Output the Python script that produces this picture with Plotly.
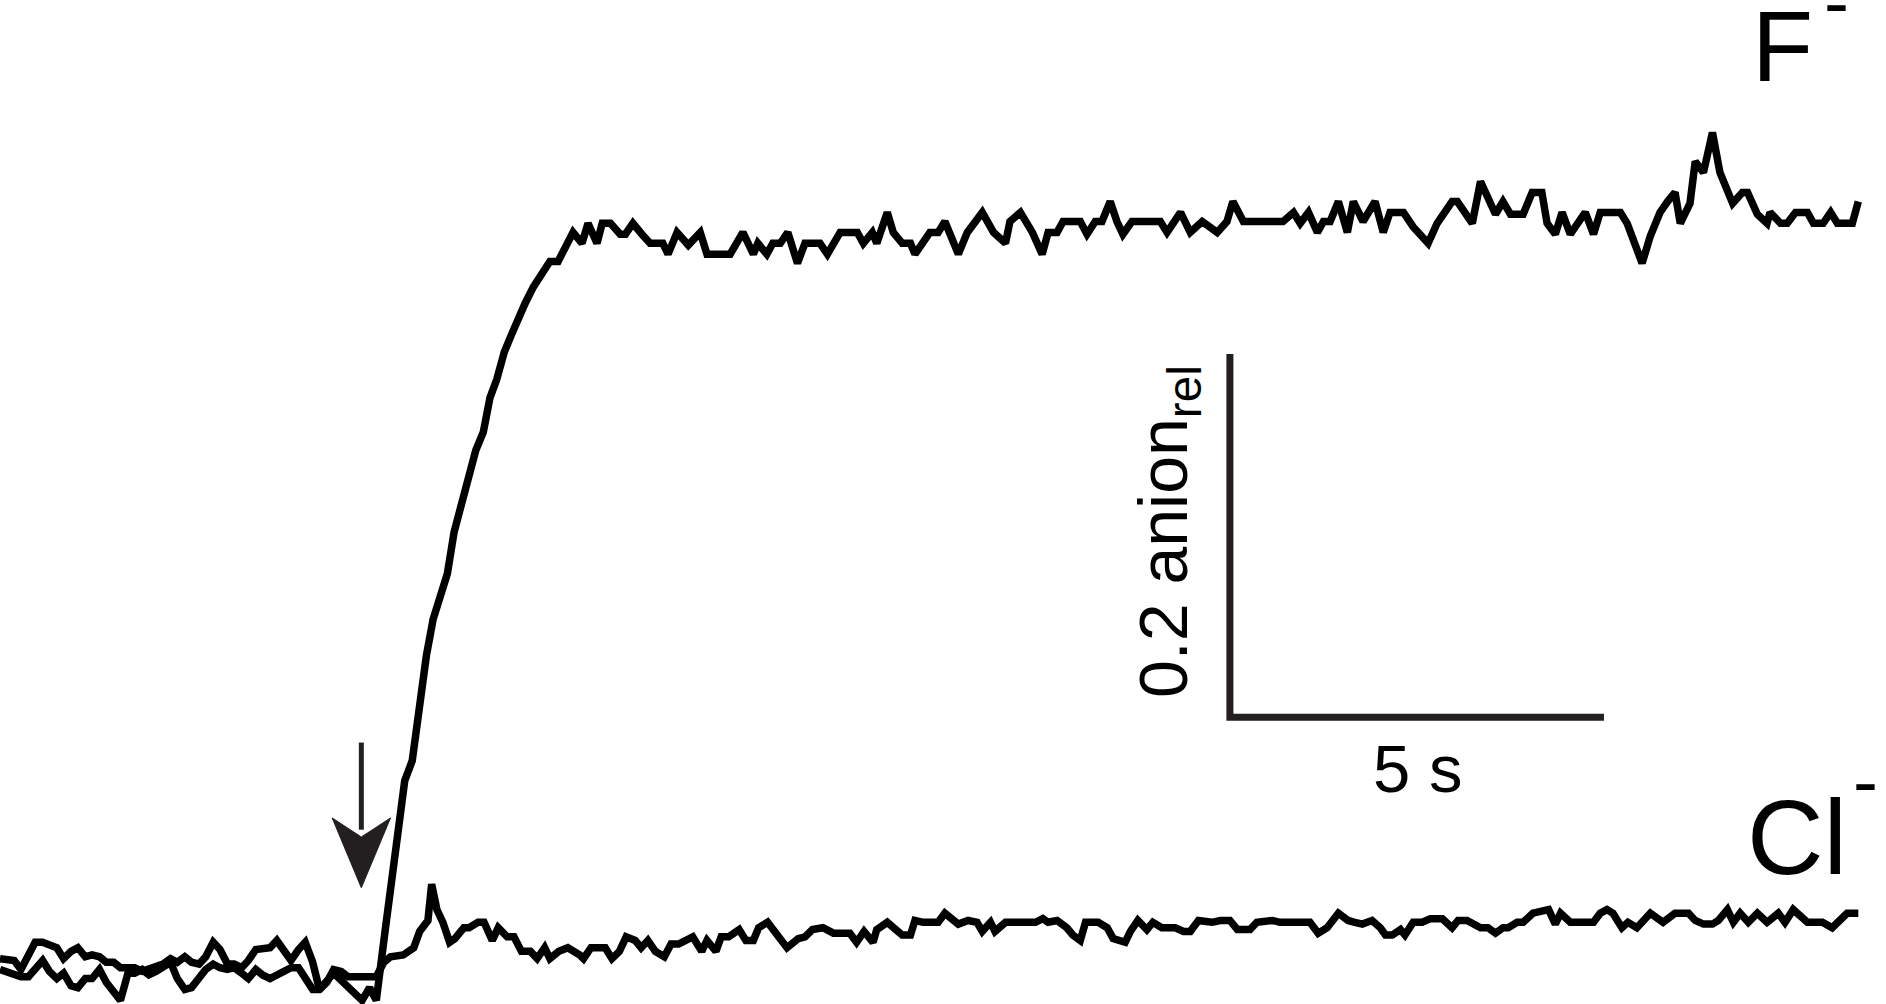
import plotly.graph_objects as go

# F- trace: time (s) and relative anion signal
f_time = [
    0.00, 0.09, 0.19, 0.28, 0.38, 0.47, 0.57, 0.66, 0.76, 0.85,
    0.95, 1.04, 1.14, 1.23, 1.33, 1.42, 1.52, 1.61, 1.71, 1.80,
    1.90, 1.99, 2.09, 2.18, 2.28, 2.37, 2.47, 2.56, 2.66, 2.75,
    2.85, 2.94, 3.04, 3.13, 3.23, 3.32, 3.42, 3.51, 3.61, 3.70,
    3.80, 3.89, 3.99, 4.08, 4.18, 4.27, 4.37, 4.46, 4.56, 4.65,
    4.75, 4.84, 4.94, 5.03,
    5.15, 5.27, 5.35, 5.41, 5.51, 5.60, 5.70, 5.79, 5.88, 5.98,
    6.07, 6.16, 6.27, 6.36, 6.46, 6.55, 6.64, 6.74, 6.83, 6.93,
    7.02, 7.13, 7.22, 7.35, 7.46, 7.58, 7.66, 7.78, 7.86, 7.98,
    8.05, 8.16, 8.29, 8.36, 8.46, 8.58, 8.69, 8.86, 8.93, 9.05,
    9.20, 9.36, 9.45, 9.76, 9.93, 10.07, 10.13, 10.25, 10.33, 10.43,
    10.53, 10.66, 10.76, 10.96, 11.06, 11.23, 11.46, 11.54, 11.66, 11.72,
    11.86, 11.94, 12.06, 12.17, 12.23, 12.43, 12.54, 12.63, 12.81, 12.93,
    13.13, 13.28, 13.44, 13.50, 13.64, 13.80, 13.93, 14.01, 14.13, 14.21,
    14.44, 14.53, 14.64, 14.73, 14.84, 14.93, 15.01, 15.13, 15.51, 15.60,
    15.78, 15.91, 16.07, 16.27, 16.40, 16.48, 16.62, 17.15, 17.29, 17.38,
    17.49, 17.61, 17.69, 17.78, 17.89, 18.01, 18.09, 18.22, 18.38, 18.49,
    18.58, 18.76, 18.89, 19.09, 19.21, 19.41, 19.48, 19.68, 19.79, 19.99,
    20.09, 20.19, 20.36, 20.48, 20.61, 20.68, 20.79, 20.88, 20.99, 21.19,
    21.30, 21.39, 21.66, 21.75, 21.86, 21.95, 22.06, 22.19, 22.29, 22.39,
    22.46, 22.59, 22.66, 22.77, 22.89, 22.99, 23.16, 23.29, 23.36, 23.49,
    23.62, 23.66, 23.80, 23.89, 24.00, 24.16, 24.24, 24.37, 24.47, 24.56,
    24.76, 24.84,
]
f_signal = [
    0.003, 0.002, 0.000, -0.001, -0.001, 0.004, 0.008, 0.002, -0.002, 0.001,
    -0.006, -0.007, -0.002, -0.002, 0.003, -0.004, -0.009, -0.014, 0.001, 0.001,
    0.003, 0.000, 0.002, 0.004, 0.007, -0.002, -0.008, -0.007, -0.002, 0.003,
    0.006, 0.004, 0.003, 0.004, 0.001, -0.002, 0.003, 0.000, -0.002, 0.000,
    0.003, 0.004, 0.004, -0.001, -0.008, -0.008, -0.004, 0.001, -0.003, -0.007,
    -0.010, -0.014, -0.007, -0.014,
    0.025, 0.063, 0.088, 0.107, 0.118, 0.149, 0.176, 0.196, 0.208, 0.221,
    0.244, 0.259, 0.278, 0.289, 0.299, 0.318, 0.328, 0.343, 0.352, 0.362,
    0.370, 0.379, 0.385, 0.393, 0.393, 0.403, 0.409, 0.403, 0.414, 0.403,
    0.414, 0.414, 0.408, 0.408, 0.414, 0.408, 0.403, 0.403, 0.397, 0.409,
    0.402, 0.409, 0.397, 0.397, 0.409, 0.397, 0.403, 0.397, 0.403, 0.403,
    0.409, 0.392, 0.403, 0.403, 0.397, 0.409, 0.409, 0.403, 0.409, 0.403,
    0.420, 0.409, 0.403, 0.403, 0.397, 0.409, 0.409, 0.415, 0.397, 0.409,
    0.420, 0.409, 0.403, 0.415, 0.420, 0.409, 0.397, 0.409, 0.409, 0.415,
    0.415, 0.408, 0.415, 0.415, 0.426, 0.415, 0.408, 0.415, 0.415, 0.409,
    0.420, 0.409, 0.415, 0.409, 0.415, 0.426, 0.415, 0.415, 0.420, 0.414,
    0.420, 0.409, 0.415, 0.415, 0.426, 0.409, 0.426, 0.415, 0.426, 0.409,
    0.420, 0.420, 0.412, 0.403, 0.414, 0.426, 0.426, 0.414, 0.437, 0.419,
    0.426, 0.419, 0.419, 0.431, 0.431, 0.414, 0.408, 0.420, 0.408, 0.420,
    0.408, 0.420, 0.420, 0.414, 0.403, 0.392, 0.407, 0.420, 0.426, 0.431,
    0.414, 0.425, 0.448, 0.442, 0.464, 0.442, 0.425, 0.431, 0.431, 0.419,
    0.414, 0.420, 0.414, 0.414, 0.420, 0.420, 0.414, 0.414, 0.420, 0.414,
    0.414, 0.426,
]

# Cl- trace: time (s) and relative anion signal
cl_time = [
    0.00, 0.09, 0.19, 0.28, 0.38, 0.47, 0.57, 0.66, 0.76, 0.85,
    0.95, 1.04, 1.14, 1.23, 1.33, 1.42, 1.52, 1.61, 1.71, 1.80,
    1.90, 1.99, 2.09, 2.18, 2.28, 2.37, 2.47, 2.56, 2.66, 2.75,
    2.85, 2.94, 3.04, 3.13, 3.23, 3.32, 3.42, 3.51, 3.61, 3.70,
    3.80, 3.89, 3.99, 4.08, 4.18, 4.27, 4.37, 4.46, 4.56, 4.65,
    4.75, 4.84, 4.94,
    5.03, 5.13, 5.22, 5.39, 5.53, 5.61, 5.72, 5.77, 5.84, 5.92,
    6.01, 6.08, 6.20, 6.27, 6.39, 6.47, 6.58, 6.66, 6.78, 6.87,
    6.97, 7.09, 7.18, 7.28, 7.35, 7.47, 7.59, 7.75, 7.80, 7.90,
    8.09, 8.18, 8.28, 8.37, 8.49, 8.57, 8.66, 8.76, 8.88, 8.97,
    9.07, 9.26, 9.38, 9.45, 9.57, 9.64, 9.74, 9.88, 9.97, 10.07,
    10.14, 10.26, 10.36, 10.52, 10.67, 10.76, 10.86, 11.00, 11.14, 11.36,
    11.45, 11.55, 11.67, 11.72, 11.86,
    12.06, 12.17, 12.23, 12.34, 12.54, 12.63, 12.81, 12.94, 13.06, 13.13,
    13.24, 13.30, 13.44, 13.84, 13.94, 14.01, 14.13, 14.26, 14.34, 14.44,
    14.51, 14.68, 14.80, 14.88, 15.04, 15.11, 15.21, 15.33, 15.41, 15.53,
    15.71, 15.82, 15.91, 16.02, 16.20, 16.31, 16.44, 16.54, 16.71, 16.80,
    17.01, 17.11, 17.31, 17.41, 17.51, 17.62, 17.74, 17.89, 18.02, 18.11,
    18.21, 18.34, 18.45,
    18.52, 18.61, 18.72, 18.78, 18.89, 19.01, 19.12,
    19.28, 19.41, 19.49, 19.61, 19.79, 19.89, 19.99, 20.09, 20.16, 20.28,
    20.36, 20.49, 20.63, 20.70, 20.79, 20.86, 20.99, 21.30, 21.39, 21.48,
    21.56, 21.68, 21.76, 21.88, 22.06, 22.23, 22.39, 22.57, 22.66, 22.77,
    22.89, 22.97, 23.09, 23.17, 23.26, 23.37, 23.49, 23.62, 23.77, 23.86,
    23.97, 24.16, 24.36, 24.49, 24.69, 24.84,
]
cl_signal = [
    0.009, 0.009, 0.008, 0.003, 0.010, 0.018, 0.018, 0.017, 0.015, 0.009,
    0.013, 0.015, 0.010, 0.011, 0.010, 0.007, 0.007, 0.004, 0.004, 0.004,
    0.002, 0.003, 0.004, 0.006, 0.009, 0.007, 0.010, 0.007, 0.006, 0.010,
    0.018, 0.014, 0.006, 0.006, 0.004, 0.008, 0.014, 0.014, 0.015, 0.019,
    0.014, 0.008, 0.014, 0.018, 0.007, -0.008, -0.004, 0.003, 0.002, -0.001,
    -0.001, -0.001, -0.001,
    -0.001, 0.007, 0.010, 0.011, 0.015, 0.024, 0.030, 0.050, 0.036, 0.029,
    0.018, 0.020, 0.026, 0.026, 0.029, 0.029, 0.019, 0.026, 0.021, 0.021,
    0.013, 0.013, 0.009, 0.015, 0.009, 0.013, 0.015, 0.011, 0.009, 0.015,
    0.015, 0.009, 0.013, 0.021, 0.019, 0.015, 0.019, 0.013, 0.010, 0.017,
    0.017, 0.021, 0.013, 0.019, 0.013, 0.021, 0.021, 0.025, 0.019, 0.019,
    0.026, 0.029, 0.023, 0.015, 0.020, 0.021, 0.025, 0.026, 0.023, 0.023,
    0.018, 0.024, 0.018, 0.025, 0.029,
    0.022, 0.022, 0.030, 0.029, 0.029, 0.034, 0.028, 0.030, 0.029, 0.024,
    0.029, 0.024, 0.029, 0.029, 0.031, 0.029, 0.030, 0.026, 0.022, 0.019,
    0.029, 0.029, 0.026, 0.020, 0.018, 0.024, 0.030, 0.025, 0.029, 0.026,
    0.026, 0.024, 0.024, 0.030, 0.029, 0.030, 0.030, 0.025, 0.025, 0.029,
    0.030, 0.029, 0.029, 0.030, 0.029, 0.023, 0.026, 0.034, 0.030, 0.029,
    0.028, 0.030, 0.026,
    0.022, 0.022, 0.025, 0.022, 0.029, 0.029, 0.031,
    0.031, 0.026, 0.030, 0.030, 0.026, 0.026, 0.023, 0.026, 0.026, 0.029,
    0.029, 0.034, 0.036, 0.036, 0.028, 0.034, 0.029, 0.029, 0.034, 0.036,
    0.034, 0.026, 0.029, 0.026, 0.034, 0.029, 0.034, 0.034, 0.030, 0.028,
    0.028, 0.030, 0.036, 0.029, 0.034, 0.029, 0.034, 0.029, 0.034, 0.029,
    0.036, 0.029, 0.029, 0.026, 0.034, 0.034,
]
assert len(f_time) == len(f_signal) and len(cl_time) == len(cl_signal)

# scale bar (5 s by 0.2 anion_rel) and the time of anion addition
scale_t0, scale_v0 = 16.44, 0.142
scale_dt, scale_dv = 5, 0.2
stim_t = 4.83

FONT = "Liberation Sans, Arial, Helvetica, sans-serif"
INK = "#231f20"

fig = go.Figure()
for t, v in [(f_time, f_signal), (cl_time, cl_signal)]:
    fig.add_trace(go.Scatter(
        x=t, y=v, mode="lines",
        line=dict(color="black", width=7.5),
        hoverinfo="skip", showlegend=False,
    ))

# scale bar
fig.add_shape(
    type="path",
    path=(f"M {scale_t0},{scale_v0 + scale_dv} L {scale_t0},{scale_v0} "
          f"L {scale_t0 + scale_dt},{scale_v0}"),
    line=dict(color=INK, width=7),
)

# arrow marking anion addition
fig.add_shape(type="line", x0=stim_t, x1=stim_t, y0=0.128, y1=0.080,
              line=dict(color=INK, width=5))
fig.add_shape(
    type="path",
    path=(f"M {stim_t - 0.39},0.0865 L {stim_t},0.076 L {stim_t + 0.39},0.0865 "
          f"L {stim_t},0.048 Z"),
    fillcolor=INK, line=dict(color=INK, width=1),
)

labels = [
    dict(text="F", x=1782, y=46, size=100, anchor="center"),
    dict(text="-", x=1822, y=1.5, size=75, anchor="left"),
    dict(text="Cl", x=1797, y=837, size=106, anchor="center"),
    dict(text="-", x=1851, y=781, size=75, anchor="left"),
    dict(text="5 s", x=1417, y=768, size=67, anchor="center"),
]
for lab in labels:
    fig.add_annotation(
        text=lab["text"], x=lab["x"] / 1886, y=1 - lab["y"] / 1004,
        xref="paper", yref="paper",
        xanchor=lab["anchor"], yanchor="middle", showarrow=False,
        font=dict(family=FONT, size=lab["size"], color="black"),
    )
fig.add_annotation(
    text="0.2 anion<sub>rel</sub>", x=1168 / 1886, y=1 - 532 / 1004,
    xref="paper", yref="paper", xanchor="center", yanchor="middle",
    textangle=-90, showarrow=False,
    font=dict(family=FONT, size=68, color="black"),
)

fig.update_layout(
    width=1886, height=1004,
    margin=dict(l=0, r=0, t=0, b=0),
    paper_bgcolor="white", plot_bgcolor="white",
    xaxis=dict(range=[0, 25.21], visible=False, fixedrange=True),
    yaxis=dict(range=[-0.016, 0.537], visible=False, fixedrange=True),
)

# drop the browser's default page margin so the figure sits at the corner
fig.write_html(
    "out.html",
    config={"displayModeBar": False},
    post_script="document.body.style.margin='0';document.body.style.overflow='hidden';",
)
